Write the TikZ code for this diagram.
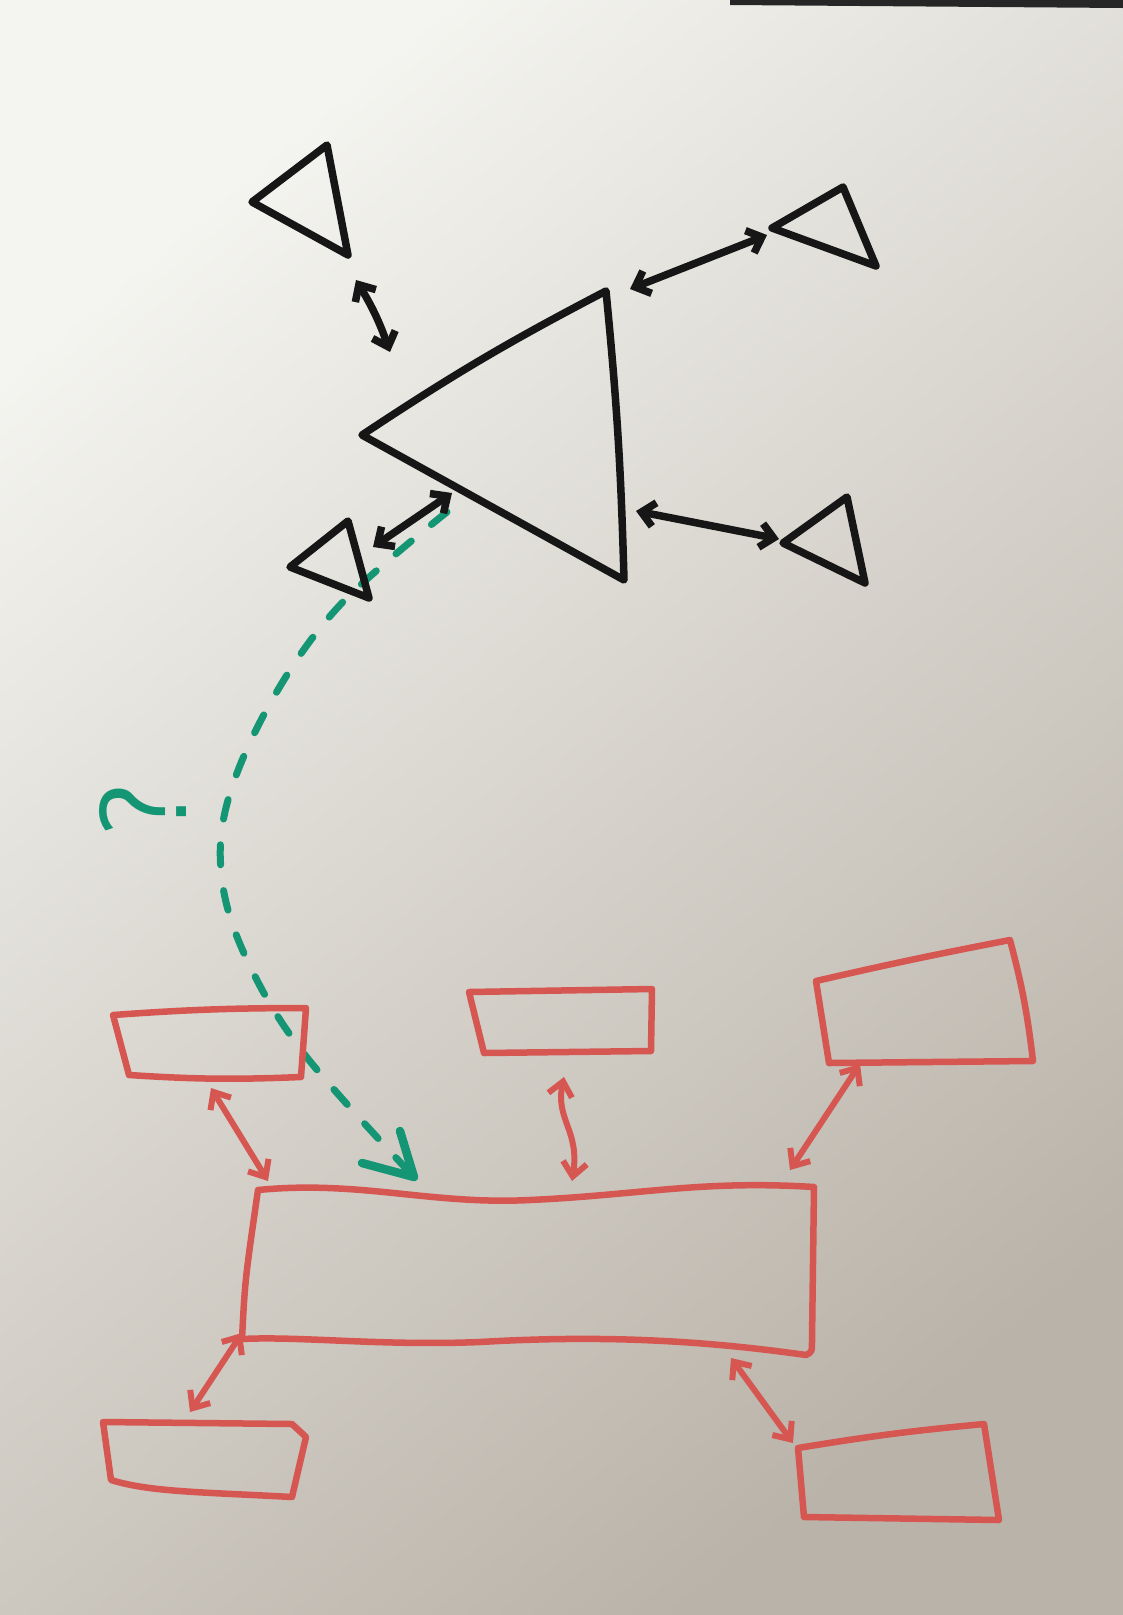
\documentclass[tikz,border=0pt]{standalone}
\usetikzlibrary{arrows.meta}
\definecolor{ink}{RGB}{22,22,22}
\definecolor{redink}{RGB}{214,86,82}
\definecolor{greenink}{RGB}{20,150,116}
\definecolor{paperlight}{RGB}{244,244,240}
\definecolor{paperdark}{RGB}{186,179,169}
\begin{document}
\begin{tikzpicture}[x=1pt,y=-1pt,
  blk/.style={draw=ink,line width=7.5pt,line join=round,line cap=round},
  blkarrow/.style={draw=ink,line width=7.5pt,line cap=round,{Straight Barb[length=13pt,width=24pt]}-{Straight Barb[length=13pt,width=24pt]}},
  redbox/.style={draw=redink,line width=6.5pt,line join=round,line cap=round},
  redarrow/.style={draw=redink,line width=6pt,line cap=round,{Straight Barb[length=14pt,width=24pt]}-{Straight Barb[length=14pt,width=24pt]}},
  greendash/.style={draw=greenink,line width=7pt,line cap=round,dash pattern=on 20pt off 26pt},
  greentip/.style={draw=greenink,line width=8.5pt,line cap=round,line join=round}]
% paper
\useasboundingbox (0,0) rectangle (1123,1615);
\shade[top color=paperlight,bottom color=paperdark,shading angle=40] (0,0) rectangle (1123,1615);
\fill[black!85] (730,0) -- (1123,0) -- (1123,8) -- (730,5) -- cycle;

% ---------- black triangles ----------
\coordinate (t1a) at (252,202); \coordinate (t1b) at (327,145); \coordinate (t1c) at (348,255);
\coordinate (bga) at (362,435); \coordinate (bgb) at (606,291); \coordinate (bgc) at (624,580);
\coordinate (t2a) at (772,228); \coordinate (t2b) at (843,187); \coordinate (t2c) at (876,266);
\coordinate (t3a) at (783,543); \coordinate (t3b) at (847,497); \coordinate (t3c) at (865,583);
\coordinate (t4a) at (290,567); \coordinate (t4b) at (348,521); \coordinate (t4c) at (369,598);

% green dashed connector (drawn under black)
\coordinate (g0) at (447,512);
\coordinate (g1) at (340,605);
\coordinate (g2) at (272,700);
\coordinate (g3) at (228,800);
\coordinate (g4) at (222,880);
\coordinate (g5) at (248,962);
\coordinate (g6) at (305,1055);
\coordinate (g7) at (414,1177);
\draw[greendash] plot[smooth,tension=0.6] coordinates {(g0) (g1) (g2) (g3) (g4) (g5) (g6) (g7)};
\coordinate (gh1) at (362,1163);
\coordinate (gh2) at (400,1131);
\draw[greentip] (gh1) -- (g7) -- (gh2);
\node[greenink,rotate=90,font=\fontsize{124}{124}\selectfont\sffamily] (qm) at (143,810) {?};

\draw[blk] (t1a) -- (t1b) -- (t1c) -- cycle;
\draw[blk] (bga) to[bend left=3] (bgb) to[bend left=2] (bgc) -- cycle;
\draw[blk] (t2a) -- (t2b) -- (t2c) -- cycle;
\draw[blk] (t3a) -- (t3b) -- (t3c) -- cycle;
\draw[blk] (t4a) -- (t4b) -- (t4c) -- cycle;

% black connectors
\coordinate (a1s) at (356,280); \coordinate (a1e) at (390,352);
\coordinate (a2s) at (630,289); \coordinate (a2e) at (767,235);
\coordinate (a3s) at (636,511); \coordinate (a3e) at (779,539);
\coordinate (a4s) at (373,547); \coordinate (a4e) at (452,493);
\draw[blkarrow] (a1s) to[bend left=6] (a1e);
\draw[blkarrow] (a2s) -- (a2e);
\draw[blkarrow] (a3s) -- (a3e);
\draw[blkarrow] (a4s) -- (a4e);

% ---------- red boxes ----------
\coordinate (b1a) at (113,1015); \coordinate (b1b) at (306,1008); \coordinate (b1c) at (301,1077); \coordinate (b1d) at (129,1075);
\draw[redbox] (b1a) to[bend left=2] (b1b) -- (b1c) to[bend left=3] (b1d) -- cycle;
\coordinate (b2a) at (469,992); \coordinate (b2b) at (652,989); \coordinate (b2c) at (651,1051); \coordinate (b2d) at (484,1053);
\draw[redbox] (b2a) -- (b2b) -- (b2c) -- (b2d) -- cycle;
\coordinate (b3a) at (816,981); \coordinate (b3b) at (1010,940); \coordinate (b3c) at (1033,1061); \coordinate (b3d) at (829,1063);
\draw[redbox] (b3a) to[bend left=1] (b3b) to[bend left=4] (b3c) -- (b3d) -- cycle;
\coordinate (b0a) at (258,1190); \coordinate (b0b) at (814,1187); \coordinate (b0c) at (806,1355); \coordinate (b0d) at (242,1339);
\draw[redbox] (b0a) .. controls (360,1180) and (430,1205) .. (530,1200)
   .. controls (640,1195) and (700,1180) .. (b0b)
   -- (812,1340) .. controls (812,1352) .. (b0c)
   .. controls (700,1340) and (600,1335) .. (480,1342)
   .. controls (380,1346) and (300,1336) .. (b0d)
   .. controls (245,1280) .. (b0a) -- cycle;
\coordinate (b5a) at (103,1422); \coordinate (b5b) at (292,1424); \coordinate (b5c) at (306,1437); \coordinate (b5d) at (292,1497); \coordinate (b5e) at (111,1480);
\draw[redbox] (b5a) -- (b5b) -- (b5c) -- (b5d) .. controls (200,1492) and (150,1492) .. (b5e) -- cycle;
\coordinate (b6a) at (798,1448); \coordinate (b6b) at (984,1424); \coordinate (b6c) at (999,1520); \coordinate (b6d) at (804,1517);
\draw[redbox] (b6a) to[bend left=2] (b6b) -- (b6c) -- (b6d) -- cycle;

% red connectors
\coordinate (r1s) at (211,1088); \coordinate (r1e) at (268,1181);
\coordinate (r2s) at (564,1077); \coordinate (r2e) at (572,1181);
\coordinate (r3s) at (860,1064); \coordinate (r3e) at (790,1170);
\coordinate (r4s) at (242,1333); \coordinate (r4e) at (190,1412);
\coordinate (r5s) at (731,1358); \coordinate (r5e) at (793,1443);
\draw[redarrow] (r1s) -- (r1e);
\draw[redarrow] (r2s) .. controls (555,1120) and (580,1130) .. (r2e);
\draw[redarrow] (r3s) -- (r3e);
\draw[redarrow] (r4s) -- (r4e);
\draw[redarrow] (r5s) -- (r5e);
\end{tikzpicture}
\end{document}
